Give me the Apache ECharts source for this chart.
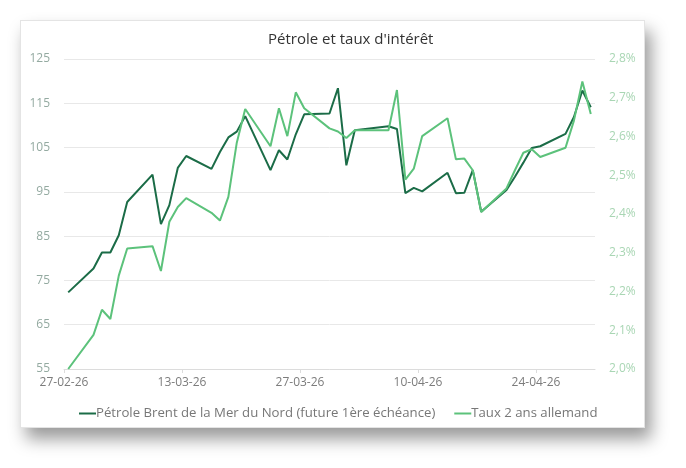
<!DOCTYPE html>
<html>
<head>
<meta charset="utf-8">
<script src="https://cdn.jsdelivr.net/npm/echarts@6/dist/echarts.min.js"></script>
<style>
  body { margin: 0; background: #fff; }
  #card {
    position: absolute; left: 20px; top: 20px; width: 625px; height: 408px;
    background: #fff; border: 1px solid #e4e4e4; box-sizing: border-box;
    box-shadow: 6px 11px 16px rgba(0,0,0,0.4);
  }
  #chart { width: 100%; height: 100%; }
</style>
</head>
<body>
<div id="card"><div id="chart"></div></div>
<script>
// jours ouvrés (jj-mm-aa)
const dates = [
  '27-02-26','02-03-26','03-03-26','04-03-26','05-03-26','06-03-26',
  '09-03-26','10-03-26','11-03-26','12-03-26','13-03-26',
  '16-03-26','17-03-26','18-03-26','19-03-26','20-03-26',
  '23-03-26','24-03-26','25-03-26','26-03-26','27-03-26',
  '30-03-26','31-03-26','01-04-26','02-04-26',
  '06-04-26','07-04-26','08-04-26','09-04-26','10-04-26',
  '13-04-26','14-04-26','15-04-26','16-04-26','17-04-26',
  '20-04-26','21-04-26','22-04-26','23-04-26','24-04-26',
  '27-04-26','28-04-26','29-04-26','30-04-26'
];
const brent = [
  72.3, 77.7, 81.3, 81.3, 85.2, 92.7,
  98.9, 87.7, 92.0, 100.4, 103.1,
  100.2, 104.0, 107.3, 108.6, 112.1,
  99.9, 104.4, 102.3, 108.0, 112.5,
  112.7, 118.4, 101.0, 108.9,
  109.8, 109.2, 94.7, 95.9, 95.1,
  99.3, 94.7, 94.8, 99.9, 90.5,
  95.4, 98.4, 101.6, 104.9, 105.3,
  108.1, 111.9, 117.9, 114.1
];
const taux2ans = [
  2.000, 2.088, 2.153, 2.129, 2.241, 2.311,
  2.317, 2.253, 2.380, 2.418, 2.441,
  2.403, 2.383, 2.444, 2.584, 2.671,
  2.575, 2.673, 2.601, 2.714, 2.673,
  2.621, 2.613, 2.596, 2.616,
  2.616, 2.720, 2.489, 2.517, 2.601,
  2.647, 2.541, 2.543, 2.513, 2.405,
  2.466, 2.513, 2.558, 2.567, 2.547,
  2.571, 2.641, 2.742, 2.658
];
const xTicks = [0, 14, 28, 42, 56];   // jours depuis le 27-02-26

const DAY = 86400000;
const base = Date.UTC(2026, 1, 27);

// "27-02-26" -> nombre de jours depuis le 27-02-26 (point placé à midi)
function dayIndex(s) {
  const p = s.split('-');
  return (Date.UTC(2000 + (+p[2]), +p[1] - 1, +p[0]) - base) / DAY + 0.5;
}
function dayLabel(v) {
  const d = new Date(base + Math.round(v) * DAY);
  const pad = n => (n < 10 ? '0' + n : '' + n);
  return pad(d.getUTCDate()) + '-' + pad(d.getUTCMonth() + 1) + '-' + pad(d.getUTCFullYear() % 100);
}

const fontFam = '"Open Sans", Lato, sans-serif';
const chart = echarts.init(document.getElementById('chart'));

chart.setOption({
  animation: false,
  textStyle: { fontFamily: fontFam },
  title: {
    text: "Pétrole et taux d'intérêt",
    left: 242, top: 6,
    textStyle: { fontSize: 15, fontWeight: 'normal', color: '#333', fontFamily: fontFam }
  },
  grid: { left: 43, right: 49, top: 38, bottom: 58 },
  legend: {
    left: 53, top: 381,
    itemWidth: 17, itemHeight: 2, itemGap: 19,
    icon: 'rect',
    textStyle: { fontSize: 13.2, color: '#777', fontFamily: fontFam, padding: [0, 0, 0, -5] },
    data: ["Pétrole Brent de la Mer du Nord (future 1ère échéance)", 'Taux 2 ans allemand']
  },
  xAxis: {
    type: 'value', min: 0, max: 63,
    axisLine: { lineStyle: { color: '#dcdcdc' } },
    axisTick: { customValues: xTicks, length: 4, lineStyle: { color: '#dcdcdc' } },
    axisLabel: {
      customValues: xTicks, margin: 8, fontSize: 12, color: '#7c7c7c',
      formatter: v => dayLabel(v)
    },
    splitLine: { show: false }
  },
  yAxis: [
    {
      type: 'value', min: 55, max: 125, interval: 10,
      axisLine: { show: false }, axisTick: { show: false },
      axisLabel: { margin: 14, fontSize: 12, color: '#94aaa1' },
      splitLine: { lineStyle: { color: '#e8e8e8', width: 1 } }
    },
    {
      type: 'value', min: 2.0, max: 2.8, interval: 0.1,
      axisLine: { show: false }, axisTick: { show: false },
      axisLabel: {
        margin: 14, fontSize: 12, color: '#a9d6b4',
        formatter: v => v.toFixed(1).replace('.', ',') + '%'
      },
      splitLine: { show: false }
    }
  ],
  series: [
    {
      name: "Pétrole Brent de la Mer du Nord (future 1ère échéance)",
      type: 'line', yAxisIndex: 0, showSymbol: false,
      lineStyle: { width: 2, color: '#1b6c47' }, itemStyle: { color: '#1b6c47' },
      data: dates.map((d, i) => [dayIndex(d), brent[i]])
    },
    {
      name: 'Taux 2 ans allemand',
      type: 'line', yAxisIndex: 1, showSymbol: false,
      lineStyle: { width: 2, color: '#5cc27b' }, itemStyle: { color: '#5cc27b' },
      data: dates.map((d, i) => [dayIndex(d), taux2ans[i]])
    }
  ]
});
</script>
</body>
</html>
